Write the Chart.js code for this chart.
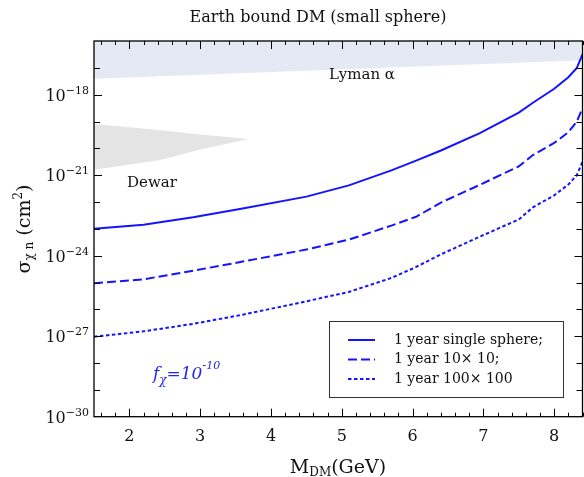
<!DOCTYPE html>
<html><head><meta charset="utf-8">
<script src="https://cdn.jsdelivr.net/npm/chart.js@4"></script>
<style>html,body{margin:0;padding:0;background:#fff}#wrap{width:584px;height:477px}</style>
</head><body><div id="wrap"><canvas id="c" width="584" height="477"></canvas></div>
<script>
// ---- data (log10 of cross-section in cm^2) ----
const massGeV = [1.5, 2.2, 2.9, 3.6, 4.5, 5.1, 5.7, 6.05, 6.4, 6.95, 7.5, 7.7, 8.0, 8.2, 8.32, 8.4];
const logSigmaSingle = [-23.0, -22.85, -22.57, -22.24, -21.8, -21.38, -20.82, -20.46, -20.08, -19.43, -18.67, -18.3, -17.78, -17.35, -17.0, -16.5];
const logSigma10x10 = [-25.03, -24.88, -24.56, -24.22, -23.77, -23.4, -22.88, -22.55, -22.02, -21.36, -20.67, -20.25, -19.8, -19.4, -19.0, -18.5];
const logSigma100x100 = [-27.02, -26.82, -26.54, -26.2, -25.7, -25.35, -24.83, -24.42, -23.95, -23.29, -22.65, -22.2, -21.75, -21.35, -21.0, -20.5];
const lymanMass = [1.5, 8.4];
const lymanLogLower = [-17.41, -16.72];
const dewarMass = [1.5, 2.44, 3.0, 3.68];
const dewarLogUpper = [-19.09, -19.33, -19.48, -19.65];
const dewarLogLower = [-20.8, -20.43, -20.04, -19.65];
const xTickLabels = [2, 3, 4, 5, 6, 7, 8];
const yTickExponents = [-30, -27, -24, -21, -18];
const seriesNames = ['1 year single sphere;', '1 year 10\u00d7 10;', '1 year 100\u00d7 100'];

const BLUE = '#1414ff';
const SERIF = '"DejaVu Serif", serif';
const pts = (xs, ls) => xs.map((x, i) => ({x: x, y: Math.pow(10, ls[i])}));
const dashes = [[], [9, 4], [3.5, 2.5]];

function richWidth(ctx, segs) {
  let w = 0;
  for (const s of segs) { ctx.font = (s.style || '') + ' ' + s.size + 'px ' + SERIF; w += ctx.measureText(s.t).width; }
  return w;
}
function richDraw(ctx, segs, x, y) {
  for (const s of segs) {
    ctx.font = (s.style || '') + ' ' + s.size + 'px ' + SERIF;
    ctx.fillText(s.t, x, y + (s.dy || 0));
    x += ctx.measureText(s.t).width;
  }
}

const decor = {
  id: 'decor',
  beforeDraw(chart) {
    const c = chart.ctx; c.save(); c.fillStyle = '#fff'; c.fillRect(0, 0, chart.width, chart.height); c.restore();
  },
  afterDraw(chart) {
    const ctx = chart.ctx, a = chart.chartArea, xs = chart.scales.x, ys = chart.scales.y;
    ctx.save();
    ctx.strokeStyle = '#000'; ctx.fillStyle = '#111'; ctx.lineWidth = 1.3;
    ctx.strokeRect(a.left, a.top, a.right - a.left, a.bottom - a.top);
    ctx.lineWidth = 1;
    ctx.beginPath();
    for (let k = 8; k <= 42; k++) {
      const v = k / 5; const px = Math.round(xs.getPixelForValue(v)) + 0.5;
      const len = (k % 5 === 0) ? 8 : 4;
      ctx.moveTo(px, a.bottom); ctx.lineTo(px, a.bottom - len);
      ctx.moveTo(px, a.top); ctx.lineTo(px, a.top + len);
    }
    for (let e = -29; e <= -17; e++) {
      const py = Math.round(ys.getPixelForValue(Math.pow(10, e))) + 0.5;
      const len = yTickExponents.includes(e) ? 8 : 6;
      ctx.moveTo(a.left, py); ctx.lineTo(a.left + len, py);
      ctx.moveTo(a.right, py); ctx.lineTo(a.right - len, py);
    }
    ctx.stroke();
    // y tick labels
    ctx.textBaseline = 'alphabetic'; ctx.textAlign = 'left'; ctx.fillStyle = '#111';
    for (const e of yTickExponents) {
      const py = ys.getPixelForValue(Math.pow(10, e));
      const segs = [{t: '10', size: 16}, {t: '\u2212' + Math.abs(e), size: 11, dy: -7}];
      const w = richWidth(ctx, segs);
      richDraw(ctx, segs, 89 - w, py + 6);
    }
    // x tick labels
    ctx.textAlign = 'center';
    ctx.font = '16px ' + SERIF;
    for (const v of xTickLabels) ctx.fillText(String(v), xs.getPixelForValue(v), 441);
    ctx.textAlign = 'left';
    // x title
    let segs = [{t: 'M', size: 19}, {t: 'DM', size: 12, dy: 3}, {t: '(GeV)', size: 19}];
    let w = richWidth(ctx, segs);
    richDraw(ctx, segs, 338 - w / 2, 473);
    // y title
    ctx.save();
    ctx.translate(30, 229); ctx.rotate(-Math.PI / 2);
    segs = [{t: '\u03c3', size: 19}, {t: '\u03c7 n', size: 12, dy: 3}, {t: ' (cm', size: 19}, {t: '2', size: 12, dy: -8}, {t: ')', size: 19}];
    w = richWidth(ctx, segs);
    richDraw(ctx, segs, -w / 2, 0);
    ctx.restore();
    // title
    ctx.textAlign = 'center'; ctx.font = '16px ' + SERIF;
    ctx.fillText('Earth bound DM (small sphere)', 318, 22);
    // region labels
    ctx.font = '15px ' + SERIF;
    ctx.fillText('Lyman \u03b1', 362, 79);
    ctx.fillText('Dewar', 152, 187);
    ctx.textAlign = 'left';
    // f_chi
    ctx.fillStyle = '#2424e8';
    richDraw(ctx, [{t: 'f', size: 17, style: 'italic'}, {t: '\u03c7', size: 12, style: 'italic', dy: 5}, {t: '=10', size: 17, style: 'italic'}, {t: '-10', size: 11, style: 'italic', dy: -10}], 153, 379);
    // legend
    ctx.fillStyle = '#fff'; ctx.fillRect(329.5, 321.5, 234, 76);
    ctx.strokeStyle = '#333'; ctx.lineWidth = 1; ctx.strokeRect(329.5, 321.5, 234, 76);
    const rows = [340, 359.5, 379];
    ctx.font = '14px ' + SERIF; ctx.textBaseline = 'middle';
    for (let i = 0; i < 3; i++) {
      ctx.strokeStyle = BLUE; ctx.lineWidth = 2; ctx.setLineDash(dashes[i]);
      ctx.beginPath(); ctx.moveTo(348, rows[i]); ctx.lineTo(375, rows[i]); ctx.stroke();
      ctx.setLineDash([]);
      ctx.fillStyle = '#111'; ctx.fillText(seriesNames[i], 394, rows[i]);
    }
    ctx.restore();
  }
};

const lineDs = (label, data, i) => ({label, data, borderColor: BLUE, borderWidth: 2, borderDash: dashes[i], pointRadius: 0, fill: false, tension: 0, order: 0});

new Chart(document.getElementById('c'), {
  type: 'line',
  data: {
    datasets: [
      lineDs(seriesNames[0], pts(massGeV, logSigmaSingle), 0),
      lineDs(seriesNames[1], pts(massGeV, logSigma10x10), 1),
      lineDs(seriesNames[2], pts(massGeV, logSigma100x100), 2),
      {label: 'Lyman', data: pts(lymanMass, lymanLogLower), borderWidth: 0, pointRadius: 0, fill: 'end', backgroundColor: '#e5e9f4', order: 5},
      {label: 'DewarU', data: pts(dewarMass, dewarLogUpper), borderWidth: 0, pointRadius: 0, fill: false, order: 6},
      {label: 'DewarL', data: pts(dewarMass, dewarLogLower), borderWidth: 0, pointRadius: 0, fill: '-1', backgroundColor: '#e4e4e4', order: 6}
    ]
  },
  options: {
    responsive: false, animation: false, devicePixelRatio: 1,
    layout: {padding: {top: 41, right: 1.5, left: 0, bottom: 0}},
    plugins: {legend: {display: false}, tooltip: {enabled: false}, title: {display: false}},
    scales: {
      x: {type: 'linear', min: 1.5, max: 8.4, grid: {display: false}, border: {display: false}, ticks: {display: false},
          afterFit: s => { s.height = 60.3; }},
      y: {type: 'logarithmic', min: 1e-30, max: 1e-16, grid: {display: false}, border: {display: false}, ticks: {display: false},
          afterFit: s => { s.width = 94; }}
    }
  },
  plugins: [decor]
});
</script></body></html>
